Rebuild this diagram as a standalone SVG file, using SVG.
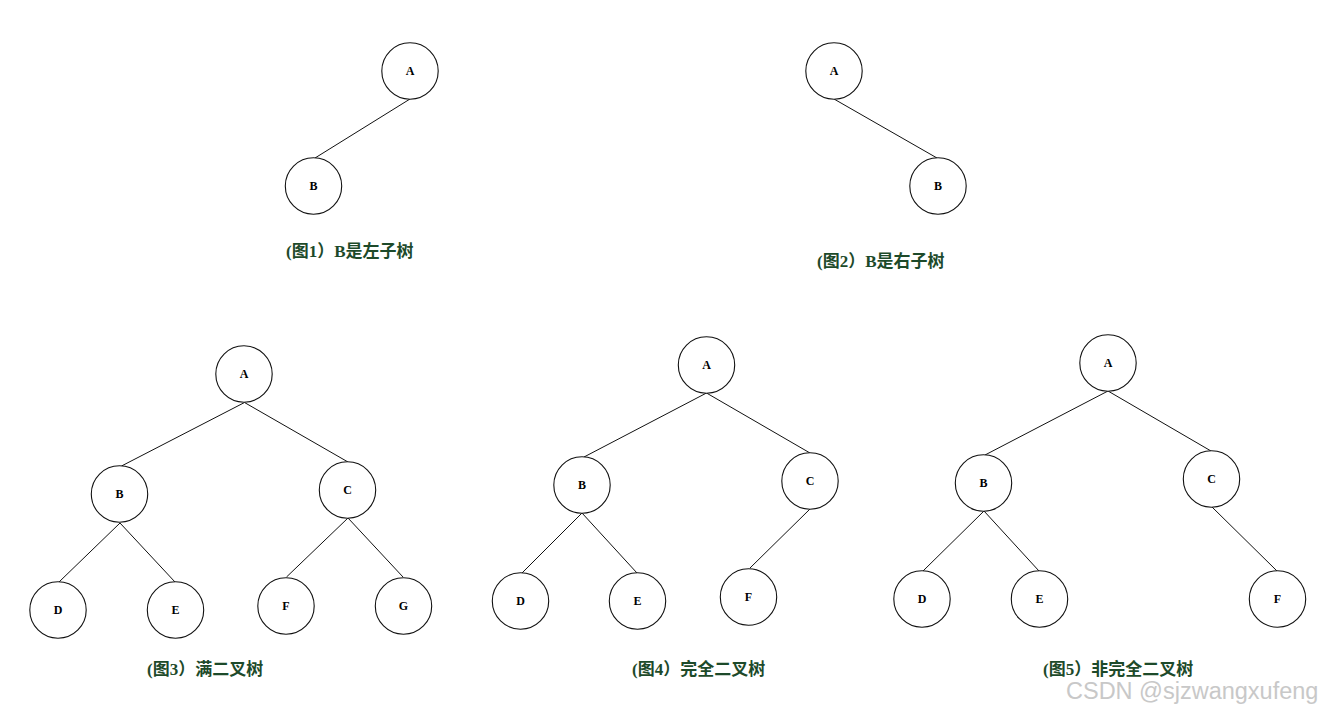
<svg xmlns="http://www.w3.org/2000/svg" width="1327" height="714" viewBox="0 0 1327 714">
<style>
.n circle{fill:#fff;stroke:#111;stroke-width:1.1}
.n text{font-family:"Liberation Serif",serif;font-weight:bold;font-size:12px;fill:#000;text-anchor:middle;dominant-baseline:central}
#edges line{stroke:#111;stroke-width:1}
.cap{font-family:"Liberation Serif","Noto Sans CJK SC",serif;font-weight:bold;font-size:17px;fill:#1d4a2a}
.wm{font-family:"Liberation Sans",sans-serif;font-size:23.5px;fill:#c8c8c8}
</style>
<rect width="1327" height="714" fill="#fff"/>
<g id="edges">
<line x1="410" y1="99" x2="315" y2="158"/>
<line x1="834" y1="99" x2="937" y2="158"/>
<line x1="244.5" y1="402.5" x2="121.5" y2="466"/>
<line x1="244.5" y1="402.5" x2="348" y2="462"/>
<line x1="120" y1="523" x2="59" y2="582"/>
<line x1="120" y1="523" x2="175" y2="582"/>
<line x1="348" y1="518" x2="286.5" y2="577"/>
<line x1="348" y1="518" x2="403" y2="577"/>
<line x1="706.5" y1="393" x2="584" y2="457"/>
<line x1="706.5" y1="393" x2="810" y2="453"/>
<line x1="582" y1="513" x2="522" y2="573"/>
<line x1="582" y1="513" x2="637" y2="573"/>
<line x1="810" y1="509" x2="750" y2="568"/>
<line x1="1108" y1="391" x2="985" y2="455"/>
<line x1="1108" y1="391" x2="1211" y2="451"/>
<line x1="984" y1="511" x2="923" y2="571"/>
<line x1="984" y1="511" x2="1039" y2="571"/>
<line x1="1212" y1="507" x2="1277" y2="571"/>
</g>
<g id="f1A" class="n"><circle cx="410" cy="71" r="28.2"/><text x="410" y="71">A</text></g>
<g id="f1B" class="n"><circle cx="313.5" cy="186" r="28.2"/><text x="313.5" y="186">B</text></g>
<g id="f2A" class="n"><circle cx="834" cy="71" r="28.2"/><text x="834" y="71">A</text></g>
<g id="f2B" class="n"><circle cx="938" cy="186" r="28.2"/><text x="938" y="186">B</text></g>
<g id="f3A" class="n"><circle cx="244" cy="374" r="28.2"/><text x="244" y="374">A</text></g>
<g id="f3B" class="n"><circle cx="119.5" cy="494" r="28.2"/><text x="119.5" y="494">B</text></g>
<g id="f3C" class="n"><circle cx="347.5" cy="490" r="28.2"/><text x="347.5" y="490">C</text></g>
<g id="f3D" class="n"><circle cx="58" cy="610" r="28.2"/><text x="58" y="610">D</text></g>
<g id="f3E" class="n"><circle cx="175.5" cy="610" r="28.2"/><text x="175.5" y="610">E</text></g>
<g id="f3F" class="n"><circle cx="286" cy="606" r="28.2"/><text x="286" y="606">F</text></g>
<g id="f3G" class="n"><circle cx="403.5" cy="606" r="28.2"/><text x="403.5" y="606">G</text></g>
<g id="f4A" class="n"><circle cx="706.5" cy="365" r="28.2"/><text x="706.5" y="365">A</text></g>
<g id="f4B" class="n"><circle cx="582" cy="485" r="28.2"/><text x="582" y="485">B</text></g>
<g id="f4C" class="n"><circle cx="810" cy="481" r="28.2"/><text x="810" y="481">C</text></g>
<g id="f4D" class="n"><circle cx="520.5" cy="601" r="28.2"/><text x="520.5" y="601">D</text></g>
<g id="f4E" class="n"><circle cx="637.5" cy="601" r="28.2"/><text x="637.5" y="601">E</text></g>
<g id="f4F" class="n"><circle cx="748.5" cy="597" r="28.2"/><text x="748.5" y="597">F</text></g>
<g id="f5A" class="n"><circle cx="1108" cy="363" r="28.2"/><text x="1108" y="363">A</text></g>
<g id="f5B" class="n"><circle cx="983.5" cy="483" r="28.2"/><text x="983.5" y="483">B</text></g>
<g id="f5C" class="n"><circle cx="1211.5" cy="479" r="28.2"/><text x="1211.5" y="479">C</text></g>
<g id="f5D" class="n"><circle cx="922" cy="599" r="28.2"/><text x="922" y="599">D</text></g>
<g id="f5E" class="n"><circle cx="1039.5" cy="599" r="28.2"/><text x="1039.5" y="599">E</text></g>
<g id="f5F" class="n"><circle cx="1277.5" cy="599" r="28.2"/><text x="1277.5" y="599">F</text></g>
<g id="captions">
<text class="cap" x="286" y="257">(图1）B是左子树</text>
<text class="cap" x="817" y="267">(图2）B是右子树</text>
<text class="cap" x="147" y="675">(图3）满二叉树</text>
<text class="cap" x="632" y="675">(图4）完全二叉树</text>
<text class="cap" x="1043" y="675">(图5）非完全二叉树</text>
</g>
<text class="wm" x="1066" y="699">CSDN @sjzwangxufeng</text>
</svg>
